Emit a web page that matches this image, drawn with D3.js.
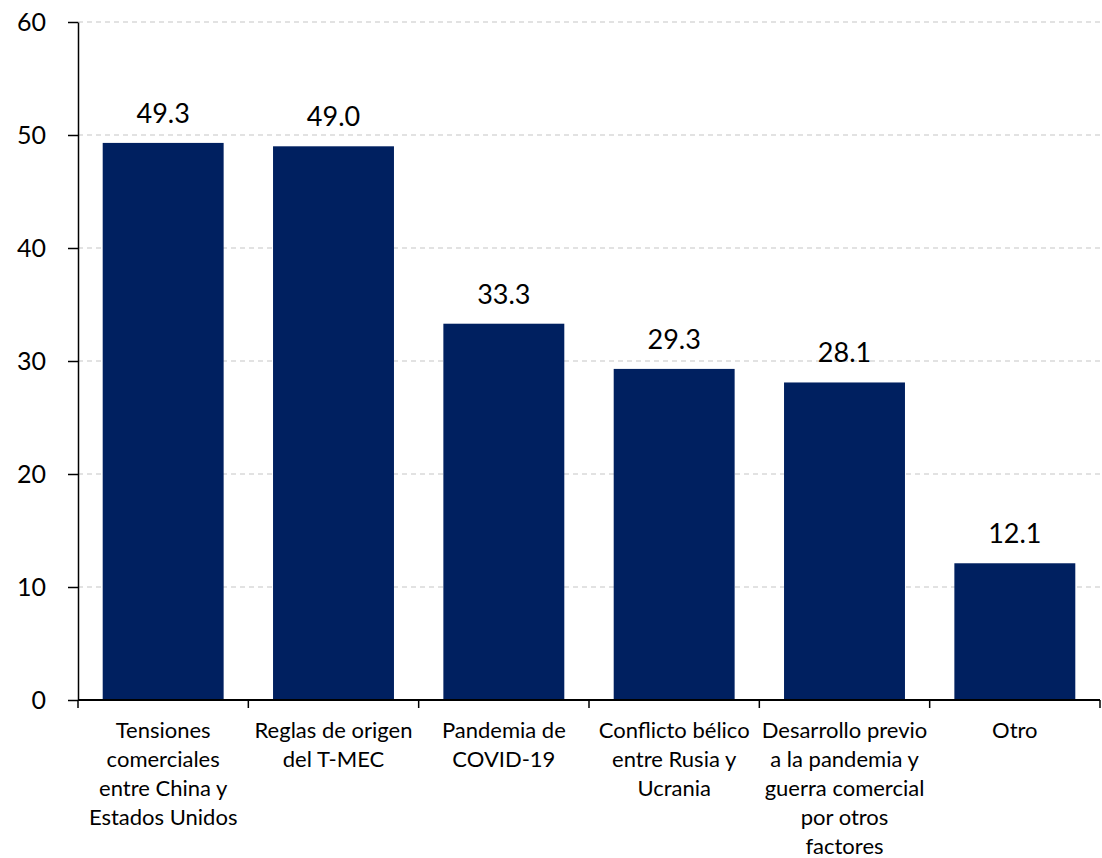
<!DOCTYPE html>
<html lang="es">
<head>
<meta charset="UTF-8">
<title>Chart</title>
<script src="https://cdn.jsdelivr.net/npm/d3@7"></script>
<style>
  body { margin: 0; background: #fff; }
  svg text { font-family: Lato, "Open Sans", sans-serif; fill: #000; }
  .grid line { stroke: #d9d9d9; stroke-width: 1.3; stroke-dasharray: 5 4; }
</style>
</head>
<body>
<svg></svg>
<script>
  // categories (line breaks as in the original)
  const categories = [
    'Tensiones|comerciales|entre China y|Estados Unidos',
    'Reglas de origen|del T-MEC',
    'Pandemia de|COVID-19',
    'Conflicto bélico|entre Rusia y|Ucrania',
    'Desarrollo previo|a la pandemia y|guerra comercial|por otros|factores',
    'Otro'
  ];
  const values = [49.3, 49.0, 33.3, 29.3, 28.1, 12.1];
  const yTicks = [0, 10, 20, 30, 40, 50, 60];

  const W = 1102, H = 858;
  const margin = { top: 22, right: 2, bottom: 158, left: 78 };
  const width = W - margin.left - margin.right;
  const height = H - margin.top - margin.bottom;

  const svg = d3.select('svg').attr('width', W).attr('height', H);
  const chart = svg.append('g').attr('transform', `translate(${margin.left},${margin.top})`);

  const y = d3.scaleLinear().domain([0, 60]).range([height, 0]);
  const x = d3.scaleBand().domain(categories).range([0, width])
    .paddingInner(0.29).paddingOuter(0.145);
  const xTicks = d3.scaleBand().domain(categories).range([0, width]);

  // gridlines
  chart.append('g').attr('class', 'grid')
    .selectAll('line')
    .data(yTicks.filter(d => d > 0))
    .join('line')
    .attr('x1', 0).attr('x2', width)
    .attr('y1', d => y(d)).attr('y2', d => y(d));

  // bars
  chart.selectAll('rect.bar')
    .data(values)
    .join('rect')
    .attr('class', 'bar')
    .attr('x', (d, i) => x(categories[i]))
    .attr('y', d => y(d))
    .attr('width', x.bandwidth())
    .attr('height', d => height - y(d))
    .attr('fill', '#002060');

  // value labels
  chart.selectAll('text.val')
    .data(values)
    .join('text')
    .attr('class', 'val')
    .attr('x', (d, i) => x(categories[i]) + x.bandwidth() / 2)
    .attr('y', d => y(d) - 20)
    .attr('text-anchor', 'middle')
    .style('font-size', '27px')
    .text(d => d.toFixed(1));

  // y axis
  const yAxis = chart.append('g')
    .call(d3.axisLeft(y).tickValues(yTicks).tickSize(10).tickPadding(22).tickSizeOuter(0));
  yAxis.select('.domain').attr('stroke', '#000').attr('stroke-width', 1.5);
  yAxis.selectAll('.tick line').attr('stroke', '#000').attr('stroke-width', 1.5);
  yAxis.selectAll('.tick text').style('font-size', '25px');

  // x axis
  const xAxis = chart.append('g').attr('transform', `translate(0,${height})`);
  xAxis.append('line')
    .attr('x1', 0).attr('x2', width)
    .attr('stroke', '#000').attr('stroke-width', 2);
  const bounds = [...categories.map(c => xTicks(c)), width];
  xAxis.selectAll('line.tk')
    .data(bounds)
    .join('line')
    .attr('class', 'tk')
    .attr('x1', d => d).attr('x2', d => d)
    .attr('y1', 0).attr('y2', 8)
    .attr('stroke', '#000').attr('stroke-width', 1.5);

  const lbl = xAxis.selectAll('text.cat')
    .data(categories)
    .join('text')
    .attr('class', 'cat')
    .attr('text-anchor', 'middle')
    .style('font-size', '22px')
    .attr('transform', c => `translate(${xTicks(c) + xTicks.bandwidth() / 2},38)`);
  lbl.selectAll('tspan')
    .data(c => c.split('|'))
    .join('tspan')
    .attr('x', 0)
    .attr('y', (d, i) => i * 29)
    .text(d => d);
</script>
</body>
</html>
